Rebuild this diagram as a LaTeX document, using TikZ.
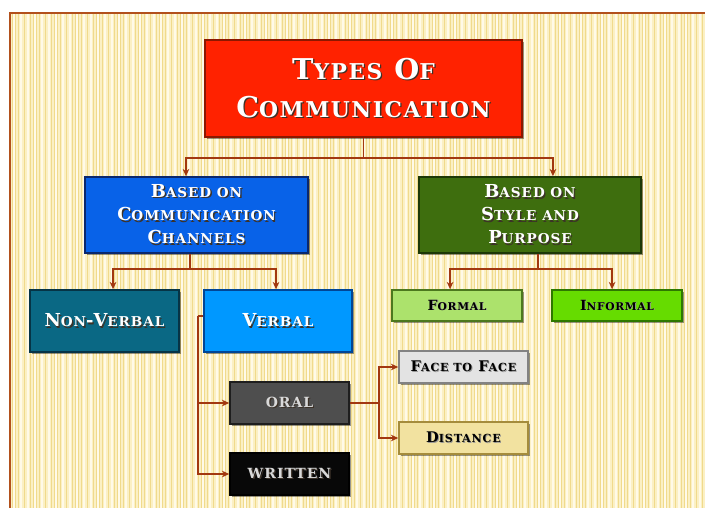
\documentclass[tikz,border=0pt]{standalone}
\usepackage{fontspec}
\setmainfont{DejaVu Serif}[LetterSpace=7]
\usetikzlibrary{arrows.meta,shadows}

\definecolor{paper}{RGB}{251,240,196}
\definecolor{stripe}{RGB}{240,218,140}
\definecolor{hilite}{RGB}{255,250,232}
\definecolor{framec}{RGB}{178,80,28}
\definecolor{linkc}{RGB}{162,56,16}
\definecolor{shdc}{RGB}{60,50,40}
\definecolor{shdl}{RGB}{150,150,150}
\definecolor{typesfill}{RGB}{255,34,0}
\definecolor{typesline}{RGB}{140,24,0}
\definecolor{chanfill}{RGB}{8,98,232}
\definecolor{chanline}{RGB}{10,40,110}
\definecolor{stylefill}{RGB}{62,110,14}
\definecolor{styleline}{RGB}{28,56,6}
\definecolor{nonvfill}{RGB}{10,104,132}
\definecolor{nonvline}{RGB}{6,52,70}
\definecolor{verbfill}{RGB}{0,152,255}
\definecolor{verbline}{RGB}{0,70,150}
\definecolor{formfill}{RGB}{172,226,108}
\definecolor{formline}{RGB}{76,120,30}
\definecolor{informfill}{RGB}{102,220,0}
\definecolor{informline}{RGB}{46,120,0}
\definecolor{oralfill}{RGB}{78,78,78}
\definecolor{oralline}{RGB}{30,30,30}
\definecolor{writfill}{RGB}{8,8,8}
\definecolor{facefill}{RGB}{227,227,227}
\definecolor{faceline}{RGB}{130,130,130}
\definecolor{distfill}{RGB}{242,226,160}
\definecolor{distline}{RGB}{165,140,60}

\makeatletter
\newdimen\smcdim
\newcommand\smc[1]{{\smcdim=\f@size pt\smcdim=.76\smcdim\fontsize{\smcdim}{\smcdim}\selectfont #1}}
\makeatother
% dark shadow under light text, pale shadow under dark text
\newcommand\shd[1]{\leavevmode\rlap{\kern1pt\raisebox{-1pt}{\color{shdc}#1}}#1}
\newcommand\shdlt[1]{\leavevmode\rlap{\kern.6pt\raisebox{-.6pt}{\color{shdl}#1}}#1}

\tikzset{every picture/.style={line width=0.75pt}}

\begin{document}
\begin{tikzpicture}[x=0.75pt,y=0.75pt,yscale=-1,xscale=1,
  box/.style={draw, rectangle, line width=1.2pt, inner sep=0pt, align=center,
    drop shadow={shadow xshift=1.5pt, shadow yshift=-1.5pt, opacity=.4, fill=black}},
  link/.style={draw=linkc, line width=1.3pt},
  arr/.style={link, -{Stealth[length=5.5pt,width=5pt]}}]
\useasboundingbox (0,0) rectangle (705,508);

%Background paper
\fill[paper] (10,13) rectangle (705,508);
\foreach \i in {12,15,...,704} \draw[stripe, line width=0.5pt] (\i,14) -- (\i,508);
\foreach \i in {14,21,...,704} \draw[hilite, line width=1pt] (\i,14) -- (\i,508);
\draw[framec, line width=1.5pt] (10,508) -- (10,13) -- (705,13);

% Boxes
\node[box, fill=typesfill, draw=typesline, text=white, minimum width=237.75pt, minimum height=72.75pt,
  font=\bfseries\fontsize{21.5}{28.5}\selectfont] (types) at (363.5,88.5)
  {\shd{T\smc{YPES} O\smc{F}}\\\shd{C\smc{OMMUNICATION}}};
\node[box, fill=chanfill, draw=chanline, text=white, minimum width=167.25pt, minimum height=57pt,
  font=\bfseries\fontsize{13.4}{17.3}\selectfont] (channels) at (196.5,215)
  {\shd{B\smc{ASED ON}}\\\shd{C\smc{OMMUNICATION}}\\\shd{C\smc{HANNELS}}};
\node[box, fill=stylefill, draw=styleline, text=white, minimum width=166.5pt, minimum height=57pt,
  font=\bfseries\fontsize{13.4}{17.3}\selectfont] (style) at (530,215)
  {\shd{B\smc{ASED ON}}\\\shd{S\smc{TYLE AND}}\\\shd{P\smc{URPOSE}}};
\node[box, fill=nonvfill, draw=nonvline, text=white, minimum width=111.75pt, minimum height=46.5pt,
  font=\bfseries\fontsize{13.4}{16}\selectfont] (nonverbal) at (104.5,321)
  {\shd{N\smc{ON}-V\smc{ERBAL}}};
\node[box, fill=verbfill, draw=verbline, text=white, minimum width=111pt, minimum height=46.5pt,
  font=\bfseries\fontsize{13.4}{16}\selectfont] (verbal) at (278,321)
  {\shd{V\smc{ERBAL}}};
\node[box, fill=formfill, draw=formline, text=black, minimum width=97.5pt, minimum height=23.25pt,
  font=\bfseries\fontsize{10.5}{12}\selectfont] (formal) at (457,305.5)
  {\shdlt{F\smc{ORMAL}}};
\node[box, fill=informfill, draw=informline, text=black, minimum width=97.5pt, minimum height=23.25pt,
  font=\bfseries\fontsize{10.5}{12}\selectfont] (informal) at (617,305.5)
  {\shdlt{I\smc{NFORMAL}}};
\node[box, fill=oralfill, draw=oralline, text=white!85!black, minimum width=89.25pt, minimum height=31.5pt,
  font=\bfseries\fontsize{10.5}{12}\selectfont] (oral) at (289.5,403)
  {\shd{ORAL}};
\node[box, fill=writfill, draw=black, text=white!85!black, minimum width=89.25pt, minimum height=31.5pt,
  font=\bfseries\fontsize{10.5}{12}\selectfont] (written) at (289.5,474)
  {\shd{WRITTEN}};
\node[box, fill=facefill, draw=faceline, text=black, minimum width=96.75pt, minimum height=24pt,
  font=\bfseries\fontsize{11}{12}\selectfont] (face) at (463.5,367)
  {\shdlt{F\smc{ACE TO} F\smc{ACE}}};
\node[box, fill=distfill, draw=distline, text=black, minimum width=96.75pt, minimum height=24pt,
  font=\bfseries\fontsize{11}{12}\selectfont] (distance) at (463.5,438)
  {\shdlt{D\smc{ISTANCE}}};

% Connectors
\draw[link] (types.south) -- ++(0,20) coordinate (j1);
\draw[arr] (j1) -| ([xshift=-7.9pt]channels.north);
\draw[arr] (j1) -| ([xshift=17.2pt]style.north);
\draw[link] ([xshift=-4.9pt]channels.south) -- ++(0,15) coordinate (j2);
\draw[arr] (j2) -| ([xshift=6.4pt]nonverbal.north);
\draw[arr] (j2) -| ([xshift=-1.5pt]verbal.north);
\draw[link] ([xshift=6pt]style.south) -- ++(0,15) coordinate (j3);
\draw[arr] (j3) -| ([xshift=-5.2pt]formal.north);
\draw[arr] (j3) -| ([xshift=-3.7pt]informal.north);
\draw[link] ([yshift=-3.75pt]verbal.west) -- ++(-5,0) coordinate (j4);
\draw[arr] (j4) |- (oral.west);
\draw[arr] (j4) |- (written.west);
\draw[link] (oral.east) -- ++(29,0) coordinate (j5);
\draw[arr] (j5) |- (face.west);
\draw[arr] (j5) |- (distance.west);

\end{tikzpicture}
\end{document}
